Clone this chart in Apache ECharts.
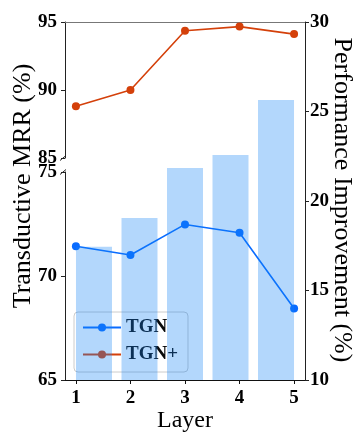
<!DOCTYPE html>
<html>
<head>
<meta charset="utf-8">
<script src="https://cdn.jsdelivr.net/npm/echarts@6/dist/echarts.min.js"></script>
<style>
html,body{margin:0;padding:0;background:#fff;}
#c{width:363px;height:436px;}
</style>
</head>
<body>
<div id="c"></div>
<script>
const layers = [1, 2, 3, 4, 5];
const tgnMRR = [71.43, 71.01, 72.48, 72.08, 68.44];
const tgnPlusMRR = [88.8, 90.0, 94.36, 94.66, 94.11];
const improvement = [17.45, 19.05, 21.84, 22.57, 25.64];
const topTicks = [85, 90, 95];
const bottomTicks = [65, 70, 75];
const rightTicks = [10, 15, 20, 25, 30];

const FONT = 'Liberation Serif';
const L = 65, W = 240;
const TOP0 = 22, H0 = 136;
const TOP1 = 172, H1 = 208;

const tickLabel = {fontFamily: FONT, fontWeight: 'bold', fontSize: 19, color: '#000'};

function yAx(grid, ticks, pos) {
  return {
    gridIndex: grid, type: 'value', position: pos,
    min: ticks[0], max: ticks[ticks.length - 1], interval: ticks[1] - ticks[0],
    axisLine: {show: true, lineStyle: {color: '#222', width: 1}},
    axisTick: {show: true, length: 4, lineStyle: {color: '#222'}},
    axisLabel: Object.assign({margin: pos === 'right' ? 5 : 8}, tickLabel),
    splitLine: {show: false}
  };
}

const chart = echarts.init(document.getElementById('c'), null, {renderer: 'canvas'});
const option = {
  animation: false,
  backgroundColor: '#fff',
  grid: [
    {left: L, width: W, top: TOP0, height: H0},
    {left: L, width: W, top: TOP1, height: H1},
    {left: L, width: W, top: TOP0, height: TOP1 + H1 - TOP0}
  ],
  xAxis: [
    {gridIndex: 0, type: 'value', position: 'top', min: 0.8, max: 5.2,
     axisLine: {show: true, lineStyle: {color: '#777'}}, axisTick: {show: false},
     axisLabel: {show: false}, splitLine: {show: false}},
    {gridIndex: 1, type: 'value', position: 'bottom', min: 0.8, max: 5.2,
     axisLine: {show: true, onZero: false, lineStyle: {color: '#111'}},
     axisTick: {show: true, length: 4, lineStyle: {color: '#111'}},
     axisLabel: Object.assign({margin: 9, customValues: layers}, tickLabel),
     axisTick: {show: true, length: 4, customValues: layers, lineStyle: {color: '#111'}},
     splitLine: {show: false},
     name: 'Layer', nameLocation: 'middle', nameGap: 25,
     nameTextStyle: {fontFamily: FONT, fontSize: 24, color: '#000'}},
    {gridIndex: 2, type: 'value', min: 0.363, max: 5.637, show: false}
  ],
  yAxis: [
    yAx(0, topTicks, 'left'),
    yAx(1, bottomTicks, 'left'),
    yAx(2, rightTicks, 'right')
  ],
  legend: {
    orient: 'vertical', left: 74, top: 312, z: 3,
    itemWidth: 38, itemHeight: 10, itemGap: 8,
    padding: [6, 10, 8, 8],
    backgroundColor: 'rgba(255,255,255,0.8)',
    borderColor: '#cccccc', borderWidth: 1, borderRadius: 4,
    textStyle: {fontFamily: FONT, fontWeight: 'bold', fontSize: 19, color: '#0a0a0a'},
    data: ['TGN', 'TGN+']
  },
  series: [
    {name: 'TGN', type: 'line', xAxisIndex: 1, yAxisIndex: 1, z: 2,
     data: layers.map((x, i) => [x, tgnMRR[i]]),
     symbol: 'circle', symbolSize: 8,
     lineStyle: {color: '#0a6cff', width: 1.6}, itemStyle: {color: '#0a6cff'}},
    {name: 'TGN+', type: 'line', xAxisIndex: 0, yAxisIndex: 0, z: 2,
     data: layers.map((x, i) => [x, tgnPlusMRR[i]]),
     symbol: 'circle', symbolSize: 8,
     lineStyle: {color: '#d4400a', width: 1.6}, itemStyle: {color: '#d4400a'}},
    {name: 'Improvement', type: 'bar', xAxisIndex: 2, yAxisIndex: 2, z: 5,
     data: layers.map((x, i) => [x, improvement[i]]),
     barWidth: 36,
     itemStyle: {color: 'rgba(20,130,245,0.32)'}}
  ]
};
chart.setOption(option);

const y85 = chart.convertToPixel({yAxisIndex: 0}, topTicks[0]);
const y75 = chart.convertToPixel({yAxisIndex: 1}, bottomTicks[bottomTicks.length - 1]);
const brk = (y) => ({type: 'line', z: 10, shape: {x1: L - 5, y1: y + 2.5, x2: L + 1, y2: y - 2.5},
  style: {stroke: '#222', lineWidth: 1}});
chart.setOption({
  graphic: [
    brk(y85), brk(y75),
    {type: 'text', x: 23, y: 186, rotation: Math.PI / 2, z: 10,
     style: {text: 'Transductive MRR (%)', fontFamily: FONT, fontSize: 26, fill: '#000',
             textAlign: 'center', textVerticalAlign: 'middle'}},
    {type: 'text', x: 342, y: 200, rotation: -Math.PI / 2, z: 10,
     style: {text: 'Performance Improvement (%)', fontFamily: FONT, fontSize: 26, fill: '#000',
             textAlign: 'center', textVerticalAlign: 'middle'}}
  ]
});
</script>
</body>
</html>
